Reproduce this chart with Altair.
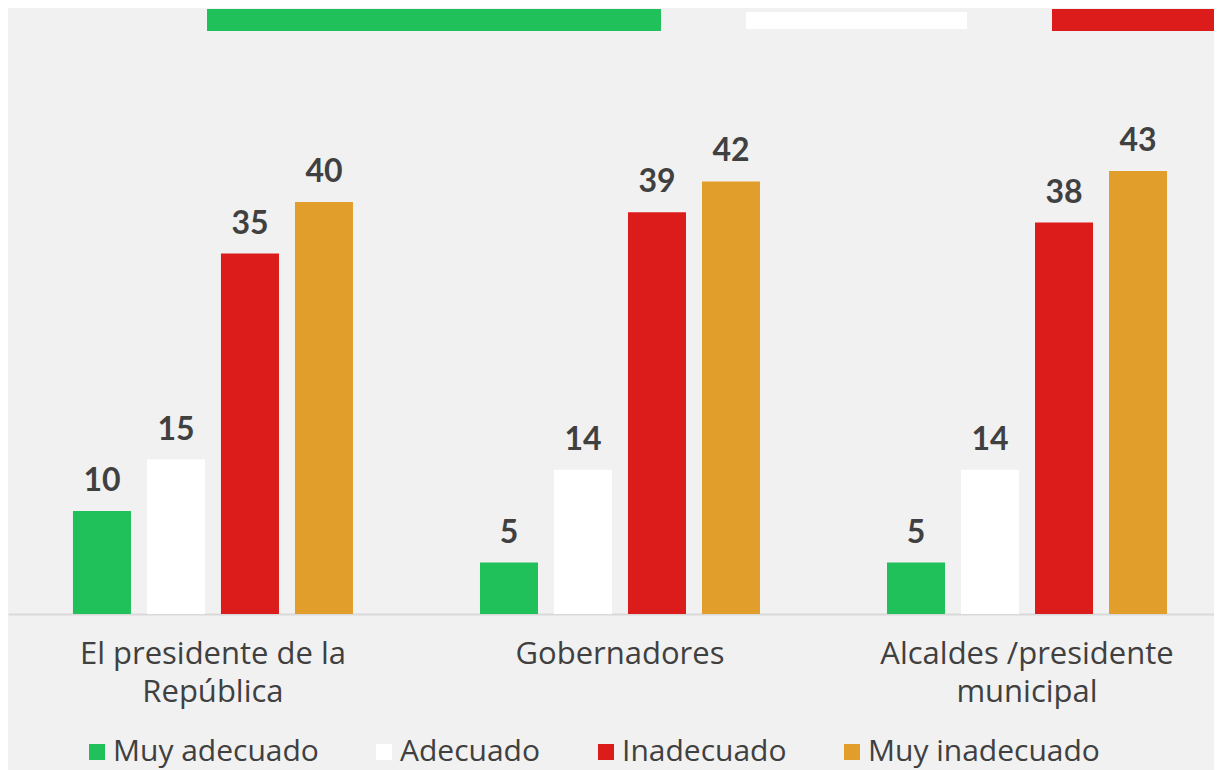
import altair as alt
import pandas as pd

categories = ["El presidente de la República", "Gobernadores", "Alcaldes /presidente municipal"]
series = ["Muy adecuado", "Adecuado", "Inadecuado", "Muy inadecuado"]
colors = ["#20c05a", "#ffffff", "#dc1c1a", "#e19e2b"]
muy_adecuado = [10, 5, 5]
adecuado = [15, 14, 14]
inadecuado = [35, 39, 38]
muy_inadecuado = [40, 42, 43]

rows = []
for s, vals in zip(series, [muy_adecuado, adecuado, inadecuado, muy_inadecuado]):
    for c, v in zip(categories, vals):
        rows.append({"category": c, "series": s, "value": v})
df = pd.DataFrame(rows)

FONT = "Open Sans"
NUMFONT = "Lato"
TXT = "#404040"
W = 1206
H = 515

label_expr = (
    "datum.value == 'El presidente de la República' ? ['El presidente de la', 'República'] : "
    "datum.value == 'Alcaldes /presidente municipal' ? ['Alcaldes /presidente', 'municipal'] : datum.label"
)

x = alt.X(
    "category:N", sort=categories, title=None,
    scale=alt.Scale(paddingInner=0.2, paddingOuter=0.0815, align=0.6355),
    axis=alt.Axis(labelExpr=label_expr, labelAngle=0, ticks=False,
                  domainColor="#d9d9d9", domainWidth=2,
                  labelFont=FONT, labelFontSize=31, labelColor=TXT,
                  labelPadding=25, labelLineHeight=38, labelLimit=0),
)
xo = alt.XOffset("series:N", sort=series,
                 scale=alt.Scale(paddingInner=0.21622, paddingOuter=0.30811))
y = alt.Y("value:Q", scale=alt.Scale(domain=[0, 50], nice=False), axis=None)
color = alt.Color(
    "series:N", sort=series,
    scale=alt.Scale(domain=series, range=colors),
    legend=alt.Legend(title=None, orient="none", direction="horizontal",
                      legendX=74, legendY=638, symbolType="square",
                      symbolSize=256, symbolStrokeWidth=0,
                      labelFont=FONT, labelFontSize=30, labelColor=TXT,
                      labelOffset=1, columnPadding=50, labelLimit=0),
)

bars = alt.Chart(df).mark_bar().encode(x=x, xOffset=xo, y=y, color=color)
labels = alt.Chart(df).mark_text(
    dy=-20, baseline="alphabetic", font=NUMFONT, fontWeight="bold",
    fontSize=32, color=TXT
).encode(x=x, xOffset=xo, y=y, text="value:Q")

one = pd.DataFrame({"k": [0]})
deco_green = alt.Chart(one).mark_rect(color="#20c05a").encode(
    x=alt.value(199), x2=alt.value(653), y=alt.value(-90), y2=alt.value(-68))
deco_white = alt.Chart(one).mark_rect(color="#ffffff").encode(
    x=alt.value(738), x2=alt.value(959), y=alt.value(-87), y2=alt.value(-70))
deco_red = alt.Chart(one).mark_rect(color="#dc1c1a").encode(
    x=alt.value(1044), x2=alt.value(1206), y=alt.value(-90), y2=alt.value(-68))

chart = alt.layer(deco_green, deco_white, deco_red, bars, labels).properties(
    width=W, height=H,
    padding={"left": 0, "top": 91, "right": 0, "bottom": 156},
    autosize=alt.AutoSizeParams(type="none"),
    background="#f1f1f1",
).configure_view(stroke=None)

chart.save("out.html", embed_options={"renderer": "svg", "actions": False})
